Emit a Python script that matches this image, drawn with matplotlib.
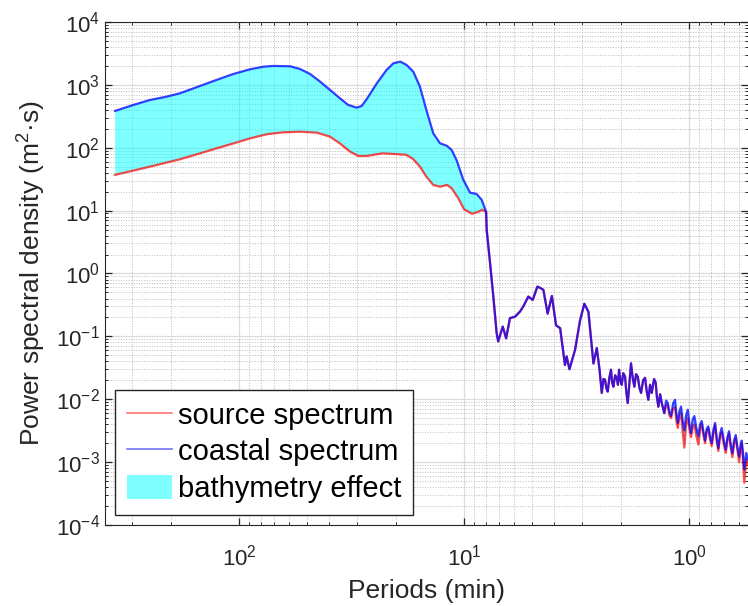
import matplotlib
matplotlib.use("Agg")
from matplotlib import pyplot as plt
from matplotlib.lines import Line2D
from matplotlib.patches import Patch
from matplotlib.ticker import LogLocator, NullFormatter

plt.rcParams['font.family'] = ['Liberation Sans', 'DejaVu Sans']
plt.rcParams['mathtext.fontset'] = 'custom'
plt.rcParams['mathtext.rm'] = 'Liberation Sans'
plt.rcParams['mathtext.it'] = 'Liberation Sans:italic'

# low frequency part, coastal (upper) curve
coastal_period = [355.6, 295, 249, 210, 183, 149, 126, 106, 89.3, 78, 70.4, 59.3, 53.6,
                  48.3, 43.6, 39.4, 35.6, 32.7, 30.0, 28.5, 27.1, 24.4, 22.1, 20.6, 19.2,
                  18.0, 16.8, 15.7, 14.7, 13.7, 12.8, 11.9, 11.35, 10.8, 10.07, 9.4, 8.79,
                  8.34, 7.98]
coastal_psd = [385, 479, 575, 649, 735, 961, 1197, 1490, 1770, 1946, 2000, 1977, 1790,
               1490, 1125, 830, 612, 479, 434, 462, 590, 1060, 1725, 2205, 2344,
               2070, 1620, 935, 398, 170, 118, 107, 92, 64, 30.8, 19.3, 18.4,
               14.8, 9.6]

# low frequency part, source (lower) curve
source_period = [355.6, 295, 249, 210, 183, 149, 126, 106, 89.3, 75.3, 63.6, 53.6, 45.1,
                 39.4, 35.6, 32.1, 29.5, 27.1, 23.0, 19.7, 18.0, 16.8, 15.7, 14.7, 13.7,
                 12.8, 11.9, 11.35, 10.6, 10.0, 9.21, 8.63, 8.34, 7.98]
source_psd = [37, 43.3, 50, 58, 65.6, 81.5, 97.7, 117, 141, 164, 176, 180, 174,
              150, 117, 86.7, 74, 74, 81.5, 79, 77, 65.6, 50, 34.7, 25.6,
              24, 25.6, 22.7, 15.7, 10.5, 8.9, 9.6, 10.3, 9.6]

# both spectra are the same here
shared_period = [7.93, 7.66, 7.41, 7.16, 7.05, 6.73, 6.50, 6.25, 5.93, 5.64, 5.45, 5.18,
                 4.95, 4.72, 4.55, 4.44, 4.25, 4.07, 3.90, 3.74, 3.56, 3.50, 3.40, 3.21,
                 3.05, 2.92, 2.80, 2.66, 2.57, 2.50, 2.443, 2.40, 2.362, 2.33, 2.298, 2.26,
                 2.222, 2.20, 2.170, 2.13, 2.096, 2.07, 2.047, 2.02, 1.991, 1.96, 1.925,
                 1.90, 1.873, 1.84, 1.811, 1.78, 1.750, 1.72, 1.690, 1.66, 1.634, 1.60,
                 1.569, 1.54, 1.517, 1.49, 1.465, 1.43, 1.406, 1.39, 1.369, 1.345, 1.322]
shared_psd = [4.9, 1.46, 0.43, 0.112, 0.083, 0.143, 0.093, 0.195, 0.206, 0.248, 0.30, 0.43,
              0.38, 0.62, 0.58, 0.55, 0.23, 0.44, 0.15, 0.135, 0.035, 0.048, 0.030, 0.061,
              0.18, 0.33, 0.245, 0.037, 0.065, 0.030, 0.0126, 0.021, 0.0204, 0.0150, 0.0132,
              0.022, 0.0295, 0.019, 0.0158, 0.024, 0.0219, 0.017, 0.0295, 0.020, 0.0170,
              0.026, 0.0229, 0.013, 0.0087, 0.018, 0.0372, 0.022, 0.0158, 0.025, 0.0229,
              0.015, 0.0126, 0.020, 0.0219, 0.013, 0.0098, 0.017, 0.0126, 0.021, 0.0182,
              0.011, 0.0076, 0.012, 0.0087]

# short periods, spectra differ a bit
tail_period = [1.288, 1.265, 1.243, 1.222, 1.202, 1.178, 1.154, 1.138, 1.122, 1.103, 1.085,
               1.067, 1.049, 1.031, 1.013, 0.996, 0.980, 0.963, 0.947, 0.928, 0.909, 0.893,
               0.878, 0.863, 0.849, 0.835, 0.821, 0.807, 0.793, 0.779, 0.766, 0.753, 0.741,
               0.728, 0.716, 0.701, 0.687, 0.675, 0.664, 0.653, 0.642, 0.631, 0.620, 0.609,
               0.599, 0.591, 0.583, 0.575, 0.568, 0.557, 0.547]
tail_coastal = [0.0060, 0.0095, 0.0087, 0.0062, 0.0054, 0.0085, 0.0098, 0.0058, 0.0042, 0.0065,
                0.0076, 0.0045, 0.0032, 0.0055, 0.0068, 0.0040, 0.0029, 0.0048, 0.0054, 0.0035,
                0.0026, 0.0040, 0.0045, 0.0030, 0.0022, 0.0034, 0.0037, 0.0026, 0.0020, 0.0033,
                0.0042, 0.0024, 0.00166, 0.0028, 0.0035, 0.0022, 0.00158, 0.0025, 0.0031, 0.0019,
                0.00138, 0.0022, 0.0027, 0.0017, 0.00123, 0.0018, 0.0022, 0.0013, 0.00076,
                0.0014, 0.0011]
tail_source = [0.0060, 0.0080, 0.0080, 0.0055, 0.0050, 0.0070, 0.0075, 0.0045, 0.0035, 0.0052,
               0.0060, 0.0030, 0.0017, 0.0040, 0.0050, 0.0033, 0.0025, 0.0036, 0.0040, 0.0026,
               0.0019, 0.0032, 0.0040, 0.0027, 0.0020, 0.0030, 0.0034, 0.0023, 0.0018, 0.0029,
               0.0038, 0.0021, 0.0015, 0.0025, 0.0030, 0.0019, 0.0014, 0.0022, 0.0028, 0.0017,
               0.0012, 0.0019, 0.0024, 0.0015, 0.0010, 0.0015, 0.0020, 0.0010, 0.00047,
               0.0011, 0.0009]

coast_x = coastal_period + shared_period + tail_period
coast_y = coastal_psd + shared_psd + tail_coastal
src_x = source_period + shared_period + tail_period
src_y = source_psd + shared_psd + tail_source

fig = plt.figure(figsize=(7.48, 6.06), dpi=100)
ax = fig.add_axes([0.1404, 0.1337, 0.8596, 0.830])

ax.plot(src_x, src_y, color='red', lw=1.6, alpha=0.7)
ax.plot(coast_x, coast_y, color='blue', lw=1.6, alpha=0.75)
# fill polygon: coastal forward, source backwards
fx = coast_x + src_x[::-1]
fy = coast_y + src_y[::-1]
ax.fill(fx, fy, color='cyan', alpha=0.5, lw=0)

ax.set_xscale('log')
ax.set_yscale('log')
ax.set_xlim(394, 0.547)
ax.set_ylim(1e-4, 1e4)
ax.yaxis.set_major_locator(LogLocator(base=10, numticks=20))
ax.yaxis.set_minor_locator(LogLocator(base=10, subs=range(2, 10), numticks=20))
ax.yaxis.set_minor_formatter(NullFormatter())
ax.xaxis.set_minor_formatter(NullFormatter())

ax.grid(True, which='major', color='#dcdcdc', lw=0.9, ls='-')
ax.grid(True, which='minor', color='#bcbcbc', lw=0.7, ls=':')
ax.set_axisbelow(True)

ax.tick_params(which='both', direction='in', top=True, right=True, colors='#262626',
               labelsize=16)
ax.tick_params(which='major', length=5, width=0.9)
ax.tick_params(which='minor', length=2.5, width=0.7)
ax.tick_params(axis='x', pad=14)
for s in ax.spines.values():
    s.set_color('#262626')
ax.spines['right'].set_visible(False)

ax.set_xlabel('Periods (min)', fontsize=19, color='#262626', labelpad=6)
ax.set_ylabel('Power spectral density (m$^2$·s)', fontsize=19, color='#262626', labelpad=6)

# legend handles: thin light lines like the reference
handles = [Line2D([], [], color='red', lw=1.1, alpha=0.6),
           Line2D([], [], color='blue', lw=1.1, alpha=0.6),
           Patch(facecolor='cyan', alpha=0.5, lw=0)]
leg = ax.legend(handles, ['source spectrum', 'coastal spectrum', 'bathymetry effect'],
                loc='lower left', fontsize=21, fancybox=False, edgecolor='#262626',
                framealpha=1, borderaxespad=0.35, handlelength=1.55, handleheight=0.9,
                handletextpad=0.2, labelspacing=0.29, borderpad=0.4)
leg.get_frame().set_linewidth(1.0)
leg.get_frame().set_alpha(1)
for t in leg.get_texts():
    t.set_color('black')

fig.savefig('out.png', dpi=100)
